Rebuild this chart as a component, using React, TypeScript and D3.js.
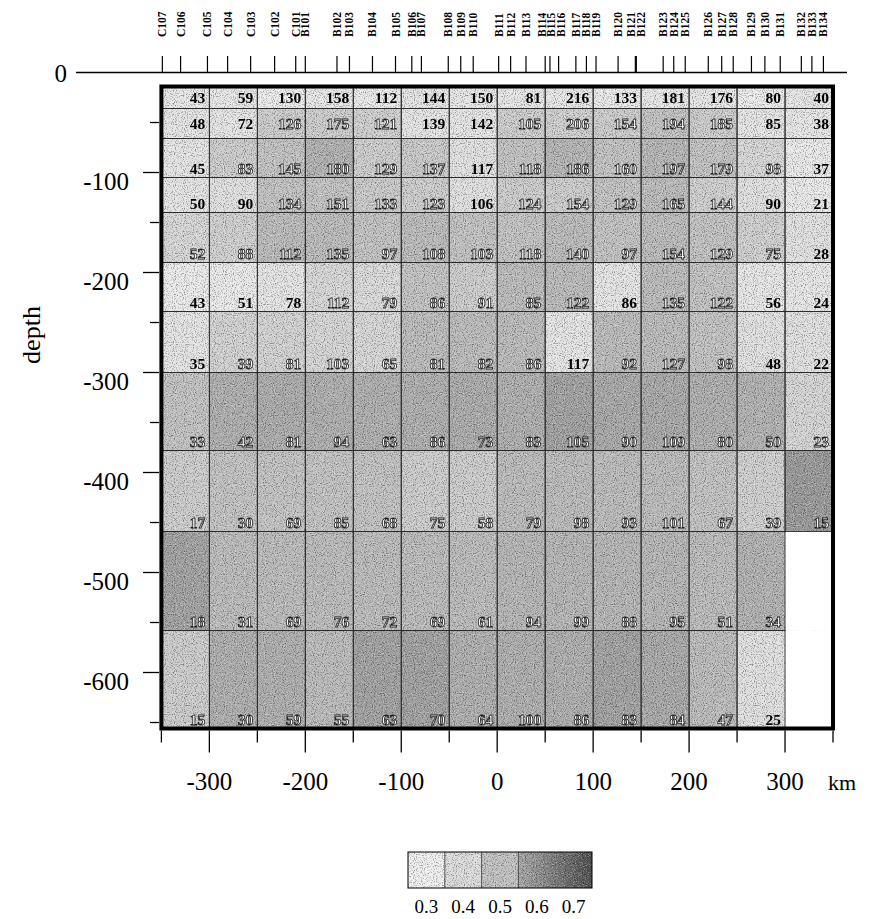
import React, { useEffect, useRef } from 'react';
import * as d3 from 'd3';

// km edges of the columns, depth edges of the rows (km)
const xEdges = [-350, -300, -250, -200, -150, -100, -50, 0, 50, 100, 150, 200, 250, 300, 350];
const depthEdges = [14, 36, 66, 105, 140, 190, 239, 300, 378, 459, 558, 656];

// number printed in each cell (null = no data, white cell)
const counts = [
  [43, 59, 130, 158, 112, 144, 150, 81, 216, 133, 181, 176, 80, 40],
  [48, 72, 126, 175, 121, 139, 142, 105, 206, 154, 194, 185, 85, 38],
  [45, 83, 145, 180, 129, 137, 117, 118, 186, 160, 197, 179, 98, 37],
  [50, 90, 134, 151, 133, 123, 106, 124, 154, 129, 165, 144, 90, 21],
  [52, 88, 112, 135, 97, 108, 103, 118, 140, 97, 154, 129, 75, 28],
  [43, 51, 78, 112, 79, 86, 91, 85, 122, 86, 135, 122, 56, 24],
  [35, 39, 81, 103, 65, 81, 82, 86, 117, 92, 127, 98, 48, 22],
  [33, 42, 81, 94, 63, 86, 73, 83, 105, 90, 109, 80, 50, 23],
  [17, 30, 69, 85, 68, 75, 58, 79, 98, 93, 101, 67, 39, 15],
  [18, 31, 69, 76, 72, 69, 61, 94, 99, 88, 95, 51, 34, null],
  [15, 30, 59, 55, 63, 70, 64, 100, 86, 83, 84, 47, 25, null],
];

// grey level of each cell, read against the 0.3 - 0.7 key
const shades = [
  [0.34, 0.34, 0.32, 0.35, 0.33, 0.36, 0.35, 0.35, 0.35, 0.33, 0.35, 0.35, 0.32, 0.35],
  [0.36, 0.36, 0.46, 0.46, 0.45, 0.36, 0.36, 0.46, 0.45, 0.46, 0.5, 0.46, 0.36, 0.35],
  [0.36, 0.46, 0.5, 0.55, 0.46, 0.47, 0.38, 0.5, 0.54, 0.5, 0.54, 0.5, 0.42, 0.33],
  [0.36, 0.38, 0.5, 0.5, 0.47, 0.46, 0.38, 0.46, 0.46, 0.5, 0.52, 0.45, 0.38, 0.33],
  [0.42, 0.45, 0.52, 0.52, 0.5, 0.52, 0.5, 0.5, 0.52, 0.5, 0.52, 0.5, 0.45, 0.38],
  [0.32, 0.33, 0.36, 0.42, 0.41, 0.5, 0.46, 0.52, 0.52, 0.36, 0.52, 0.5, 0.35, 0.35],
  [0.36, 0.44, 0.44, 0.43, 0.42, 0.52, 0.52, 0.52, 0.36, 0.52, 0.52, 0.5, 0.38, 0.38],
  [0.5, 0.56, 0.57, 0.56, 0.56, 0.56, 0.57, 0.56, 0.6, 0.58, 0.58, 0.56, 0.55, 0.43],
  [0.46, 0.5, 0.5, 0.5, 0.5, 0.46, 0.46, 0.52, 0.52, 0.52, 0.52, 0.5, 0.45, 0.62],
  [0.6, 0.52, 0.52, 0.52, 0.52, 0.52, 0.52, 0.54, 0.54, 0.54, 0.54, 0.52, 0.55, null],
  [0.46, 0.56, 0.56, 0.52, 0.6, 0.6, 0.56, 0.56, 0.56, 0.6, 0.58, 0.52, 0.38, null],
];

const stationNames = [
  'C107', 'C106', 'C105', 'C104', 'C103', 'C102', 'C101', 'B101', 'B102', 'B103',
  'B104', 'B105', 'B106', 'B107', 'B108', 'B109', 'B110', 'B111', 'B112', 'B113',
  'B114', 'B115', 'B116', 'B117', 'B118', 'B119', 'B120', 'B121', 'B122', 'B123',
  'B124', 'B125', 'B126', 'B127', 'B128', 'B129', 'B130', 'B131', 'B132', 'B133', 'B134',
];
const stationKm = [
  -349, -330, -302, -281, -257, -232, -210, -200, -167, -154,
  -130, -106, -89, -79, -51, -38, -25, 1.5, 14, 30,
  50, 55, 64, 82, 93, 103, 126, 144, 145, 173,
  184, 196, 220, 234, 246, 265, 279, 295, 317, 328, 340,
];

const depthTicks = [-100, -200, -300, -400, -500, -600];
const kmTicks = [-300, -200, -100, 0, 100, 200, 300];
const legendValues = [0.3, 0.4, 0.5, 0.6, 0.7];

const serif = '"Liberation Serif", "DejaVu Serif", serif';

export default function App() {
  const ref = useRef<SVGSVGElement>(null);

  useEffect(() => {
    const svg = d3.select(ref.current);
    svg.selectAll('*').remove();

    const x = d3.scaleLinear().domain([-350, 350]).range([161.4, 833]);
    const y = d3.scaleLinear().domain([0, -650]).range([72.5, 722.5]);
    const grey = d3.scaleLinear<string>()
      .domain(legendValues)
      .range(['#efefef', '#dcdcdc', '#c0c0c0', '#9f9f9f', '#797979'])
      .clamp(true);

    const defs = svg.append('defs');
    const gx0 = x(-350), gx1 = x(350), gy0 = y(-depthEdges[0]), gy1 = y(-depthEdges[depthEdges.length - 1]);

    // speckle texture (dark and light grain), limited to the element's box
    const mkGrain = (id: string, seed: number, rgb: number) => {
      const f = defs.append('filter').attr('id', id)
        .attr('x', 0).attr('y', 0).attr('width', 1).attr('height', 1);
      f.append('feTurbulence').attr('type', 'fractalNoise')
        .attr('baseFrequency', 0.9).attr('numOctaves', 1).attr('seed', seed).attr('result', 't');
      f.append('feColorMatrix').attr('in', 't').attr('type', 'matrix')
        .attr('values', `0 0 0 0 ${rgb}  0 0 0 0 ${rgb}  0 0 0 0 ${rgb}  4 0 0 0 -2.0`);
    };
    mkGrain('grainDark', 3, 0);
    mkGrain('grainLight', 11, 1);

    const grad = defs.append('linearGradient').attr('id', 'keyGrad');
    grad.append('stop').attr('offset', '0%').attr('stop-color', '#a6a6a6');
    grad.append('stop').attr('offset', '100%').attr('stop-color', '#4a4a4a');

    // cells
    const cells: { r: number; c: number; v: number | null; s: number | null }[] = [];
    counts.forEach((row, r) => row.forEach((v, c) => cells.push({ r, c, v, s: shades[r][c] })));

    const cx0 = (d: any) => x(xEdges[d.c]);
    const cx1 = (d: any) => x(xEdges[d.c + 1]);
    const cy0 = (d: any) => y(-depthEdges[d.r]);
    const cy1 = (d: any) => y(-depthEdges[d.r + 1]);

    svg.append('g').selectAll('rect').data(cells).enter().append('rect')
      .attr('x', cx0).attr('y', cy0)
      .attr('width', (d) => cx1(d) - cx0(d)).attr('height', (d) => cy1(d) - cy0(d))
      .attr('fill', (d) => (d.s == null ? '#fff' : grey(d.s)));

    svg.append('rect').attr('x', gx0).attr('y', gy0).attr('width', gx1 - gx0).attr('height', gy1 - gy0)
      .attr('filter', 'url(#grainDark)').attr('opacity', 0.4);
    svg.append('rect').attr('x', gx0).attr('y', gy0).attr('width', gx1 - gx0).attr('height', gy1 - gy0)
      .attr('filter', 'url(#grainLight)').attr('opacity', 0.4);

    // blank the cells without data again
    svg.append('g').selectAll('rect').data(cells.filter((d) => d.v == null)).enter().append('rect')
      .attr('x', cx0).attr('y', cy0)
      .attr('width', (d) => cx1(d) - cx0(d)).attr('height', (d) => cy1(d) - cy0(d))
      .attr('fill', '#fff');

    // thin cell lines
    svg.append('g').selectAll('rect').data(cells.filter((d) => d.v != null)).enter().append('rect')
      .attr('x', cx0).attr('y', cy0)
      .attr('width', (d) => cx1(d) - cx0(d)).attr('height', (d) => cy1(d) - cy0(d))
      .attr('fill', 'none').attr('stroke', '#2b2b2b').attr('stroke-width', 0.9);

    // numbers (group opacity keeps the glyphs grey-scale antialiased)
    svg.append('g').attr('opacity', 0.99)
      .selectAll('text').data(cells.filter((d) => d.v != null)).enter().append('text')
      .attr('x', (d) => cx1(d) - 4)
      .attr('y', (d) => {
        const h = cy1(d) - cy0(d);
        return h <= 31 ? (cy0(d) + cy1(d)) / 2 + 5.5 : cy1(d) - 4;
      })
      .attr('text-anchor', 'end')
      .style('font-family', serif).style('font-weight', 'bold').style('font-size', '15.5px')
      .attr('fill', (d) => ((d.s as number) > 0.4 ? '#ffffff' : '#000'))
      .attr('stroke', (d) => ((d.s as number) > 0.4 ? '#1a1a1a' : 'none'))
      .attr('stroke-width', 0.8)
      .text((d) => String(d.v));

    // outer frame
    svg.append('rect').attr('x', gx0).attr('y', gy0).attr('width', gx1 - gx0).attr('height', gy1 - gy0)
      .attr('fill', 'none').attr('stroke', '#000').attr('stroke-width', 4);

    // left axis
    const left = svg.append('g');
    d3.range(-50, -651, -50).forEach((d) => {
      const major = d % 100 === 0;
      left.append('line').attr('x1', major ? 143 : 150).attr('x2', 159)
        .attr('y1', y(d)).attr('y2', y(d)).attr('stroke', '#000').attr('stroke-width', 1.3);
    });
    left.selectAll('text').data(depthTicks).enter().append('text')
      .attr('x', 129).attr('y', (d) => y(d) + 17)
      .attr('text-anchor', 'end')
      .style('font-family', serif).style('font-size', '25px')
      .text((d) => String(d));
    svg.append('text').attr('transform', 'translate(40,335) rotate(-90)')
      .attr('text-anchor', 'middle')
      .style('font-family', serif).style('font-size', '26px')
      .text('depth');

    // bottom axis
    const bottom = svg.append('g');
    d3.range(-350, 351, 50).forEach((k) => {
      const major = k % 100 === 0;
      bottom.append('line').attr('x1', x(k)).attr('x2', x(k))
        .attr('y1', gy1 + 2).attr('y2', gy1 + (major ? 24 : 14))
        .attr('stroke', '#000').attr('stroke-width', 1.3);
    });
    bottom.selectAll('text').data(kmTicks).enter().append('text')
      .attr('x', (d) => x(d)).attr('y', 790)
      .attr('text-anchor', 'middle')
      .style('font-family', serif).style('font-size', '25px')
      .text((d) => String(d));
    svg.append('text').attr('x', 828).attr('y', 790)
      .style('font-family', serif).style('font-size', '22px').text('km');

    // station line on top
    const top = svg.append('g');
    top.append('line').attr('x1', 76).attr('x2', 847).attr('y1', 72.5).attr('y2', 72.5)
      .attr('stroke', '#000').attr('stroke-width', 1.3);
    top.append('text').attr('x', 67).attr('y', 82).attr('text-anchor', 'end')
      .style('font-family', serif).style('font-size', '25px').text('0');
    top.selectAll('line.st').data(stationKm).enter().append('line').attr('class', 'st')
      .attr('x1', (d) => x(d)).attr('x2', (d) => x(d)).attr('y1', 56).attr('y2', 72.5)
      .attr('stroke', '#000').attr('stroke-width', 1.2);

    // spread the station names so they don't overlap
    const pos = stationKm.map((k) => x(k));
    const gap = 9.6;
    for (let it = 0; it < 200; it++) {
      for (let i = 0; i < pos.length - 1; i++) {
        const d = pos[i + 1] - pos[i];
        if (d < gap) {
          const m = (gap - d) / 2;
          pos[i] -= m;
          pos[i + 1] += m;
        }
      }
    }
    top.selectAll('text.st').data(stationNames).enter().append('text').attr('class', 'st')
      .attr('transform', (d, i) => `translate(${pos[i] + 4},37) rotate(-90)`)
      .style('font-family', serif).style('font-weight', 'bold').style('font-size', '11.5px')
      .text((d) => d);

    // key
    const kx = d3.scaleBand<number>().domain(legendValues).range([408, 592]).padding(0);
    const key = svg.append('g');
    key.selectAll('rect').data(legendValues.slice(0, 3)).enter().append('rect')
      .attr('x', (d) => kx(d) as number).attr('y', 852)
      .attr('width', kx.bandwidth()).attr('height', 36)
      .attr('fill', (d) => grey(d));
    key.append('rect').attr('x', kx(0.6) as number).attr('y', 852)
      .attr('width', kx.bandwidth() * 2).attr('height', 36).attr('fill', 'url(#keyGrad)');
    key.append('rect').attr('x', 408).attr('y', 852).attr('width', 184).attr('height', 36)
      .attr('filter', 'url(#grainDark)').attr('opacity', 0.4);
    key.append('rect').attr('x', 408).attr('y', 852).attr('width', 184).attr('height', 36)
      .attr('filter', 'url(#grainLight)').attr('opacity', 0.4);
    key.selectAll('line').data(legendValues.slice(1, 4)).enter().append('line')
      .attr('x1', (d) => kx(d) as number).attr('x2', (d) => kx(d) as number)
      .attr('y1', 852).attr('y2', 888).attr('stroke', '#333').attr('stroke-width', 0.8);
    key.append('rect').attr('x', 408).attr('y', 852).attr('width', 184).attr('height', 36)
      .attr('fill', 'none').attr('stroke', '#000').attr('stroke-width', 1);
    key.selectAll('text').data(legendValues).enter().append('text')
      .attr('x', (d) => (kx(d) as number) + kx.bandwidth() / 2).attr('y', 913)
      .attr('text-anchor', 'middle')
      .style('font-family', serif).style('font-size', '19px')
      .text((d) => d.toFixed(1));
  }, []);

  return (
    <svg ref={ref} width={872} height={919}
      style={{ position: 'absolute', left: 0, top: 0, background: '#fff' }} />
  );
}
